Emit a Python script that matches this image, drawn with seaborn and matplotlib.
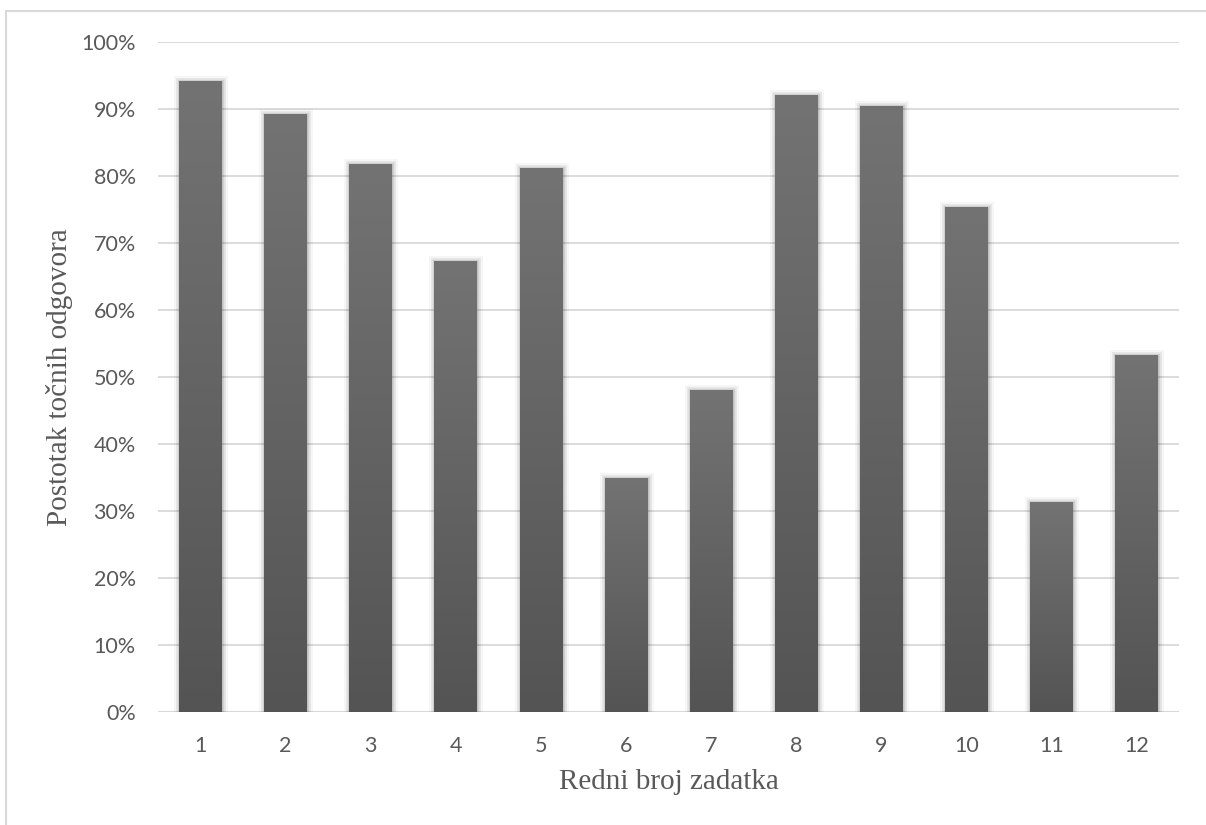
import matplotlib
matplotlib.use('Agg')
import matplotlib.pyplot as plt
import matplotlib.patheffects as pe
from matplotlib.lines import Line2D
from matplotlib.colors import LinearSegmentedColormap
import seaborn as sns
import numpy as np
import pandas as pd

zadaci = ['1', '2', '3', '4', '5', '6', '7', '8', '9', '10', '11', '12']
postotak = [94.2, 89.3, 81.8, 67.3, 81.2, 35.0, 48.0, 92.1, 90.5, 75.4, 31.3, 53.3]

df = pd.DataFrame({'zadatak': zadaci, 'postotak': postotak})

sns.set_style('white')
fig = plt.figure(figsize=(12.06, 8.25), dpi=100)
ax = fig.add_axes([0.131, 0.137, 0.847, 0.812])

sns.barplot(data=df, x='zadatak', y='postotak', color='#636363', width=0.505,
            saturation=1, ax=ax, zorder=3)

# gradient i sjena na stupcima
cmap = LinearSegmentedColormap.from_list('siva', ['#545454', '#737373'])
grad = np.linspace(0, 1, 256).reshape(-1, 1)
for p in ax.patches:
    x, w, h = p.get_x(), p.get_width(), p.get_height()
    p.set_path_effects([
        pe.Stroke(linewidth=8, foreground='black', alpha=0.035),
        pe.Stroke(linewidth=5, foreground='black', alpha=0.06),
        pe.Stroke(linewidth=2.5, foreground='black', alpha=0.1),
        pe.Normal()])
    p.set_linewidth(0)
    im = ax.imshow(grad, extent=[x, x + w, 0, h], origin='lower', aspect='auto',
                   cmap=cmap, zorder=4)
    im.set_clip_path(p)

ax.set_xlim(-0.5, 11.5)
ax.set_ylim(0, 100)
ax.set_yticks(np.arange(0, 101, 10))
ax.set_yticklabels([f'{v}%' for v in range(0, 101, 10)])
ax.yaxis.grid(True, color='#d9d9d9', linewidth=1.3, zorder=0)
ax.set_axisbelow(True)
sns.despine(ax=ax, left=True, right=True, top=True, bottom=True)
ax.axhline(0, color='#d9d9d9', linewidth=1.5, zorder=2)
ax.tick_params(axis='both', length=0, labelsize=15.5, labelcolor='#595959')
ax.tick_params(axis='y', pad=16)
ax.tick_params(axis='x', pad=17)
for t in ax.get_xticklabels() + ax.get_yticklabels():
    t.set_family('Lato')

ax.set_xlabel('Redni broj zadatka', family='Liberation Serif', fontsize=21,
              color='#595959', labelpad=10)
ax.set_ylabel('Postotak točnih odgovora', family='Liberation Serif', fontsize=21,
              color='#595959', labelpad=6)

# okvir slike
fig.add_artist(Line2D([6 / 1206, 1], [1 - 11 / 825] * 2, color='#d9d9d9', lw=1.5))
fig.add_artist(Line2D([6 / 1206] * 2, [0, 1 - 11 / 825], color='#d9d9d9', lw=1.5))

fig.savefig('out.png', dpi=100)
